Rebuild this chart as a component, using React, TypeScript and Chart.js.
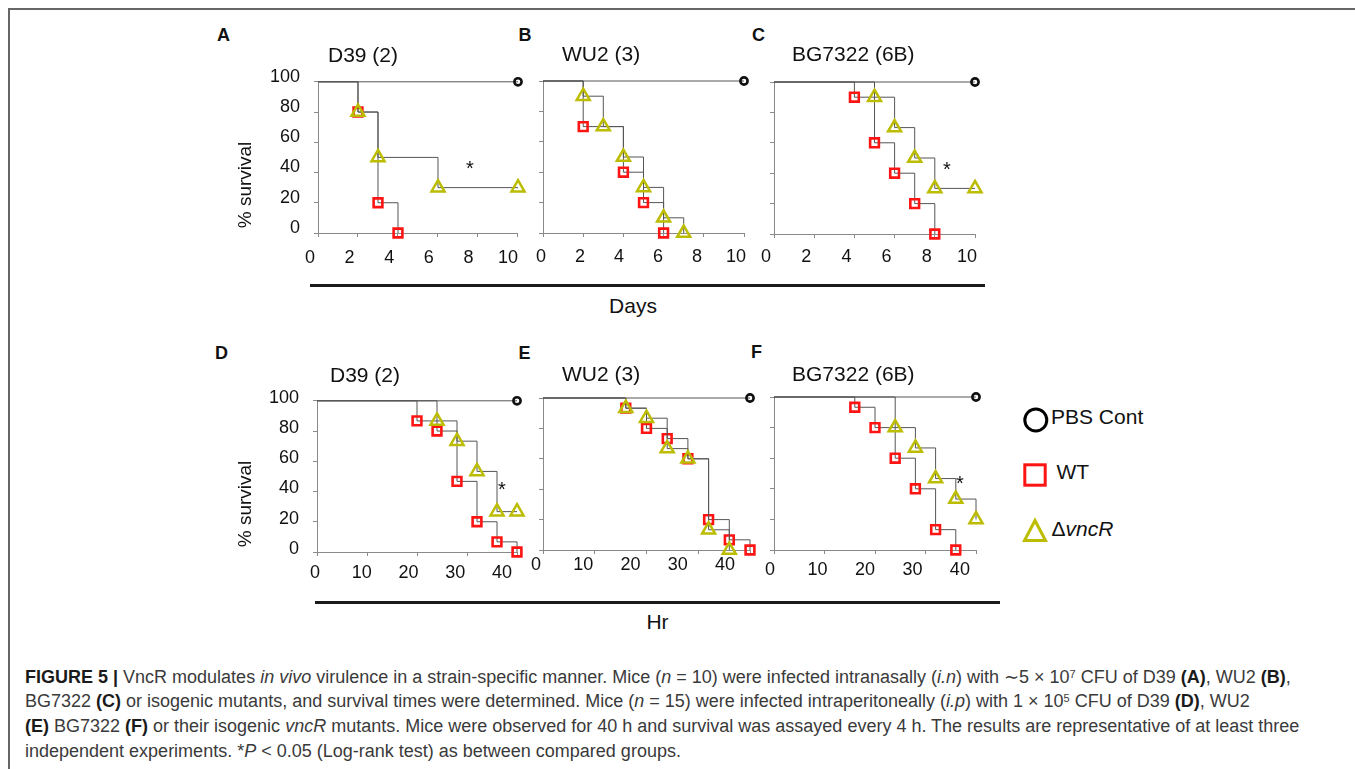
import React, { useEffect, useRef } from 'react';
import { Chart, registerables } from 'chart.js';

Chart.register(...registerables);

const FONT = '"Liberation Sans", Arial, Helvetica, sans-serif';
const LINE = '#555555';
const AXIS = '#8a8a8a';
const RED = '#ff1414';
const OLIVE = '#bcbc00';
const BLACK = '#111111';

// ---------- tick labels ----------
const dayTicks = [0, 2, 4, 6, 8, 10];
const hourTicks = [0, 10, 20, 30, 40];
const survivalTicks = [0, 20, 40, 60, 80, 100];

// ---------- Panel A: D39 (2), days ----------
const daysA_PBS = [0, 10];
const survA_PBS = [100, 100];
const daysA_WT = [0, 2, 3, 4];
const survA_WT = [100, 80, 20, 0];
const daysA_KO = [0, 2, 3, 6, 10];
const survA_KO = [100, 80, 50, 30, 30];

// ---------- Panel B: WU2 (3), days ----------
const daysB_PBS = [0, 10];
const survB_PBS = [100, 100];
const daysB_WT = [0, 2, 4, 5, 6];
const survB_WT = [100, 70, 40, 20, 0];
const daysB_KO = [0, 2, 3, 4, 5, 6, 7];
const survB_KO = [100, 90, 70, 50, 30, 10, 0];

// ---------- Panel C: BG7322 (6B), days ----------
const daysC_PBS = [0, 10];
const survC_PBS = [100, 100];
const daysC_WT = [0, 4, 5, 6, 7, 8];
const survC_WT = [100, 90, 60, 40, 20, 0];
const daysC_KO = [0, 5, 6, 7, 8, 10];
const survC_KO = [100, 90, 70, 50, 30, 30];

// ---------- Panel D: D39 (2), hours ----------
const hrsD_PBS = [0, 40];
const survD_PBS = [100, 100];
const hrsD_WT = [0, 20, 24, 28, 32, 36, 40];
const survD_WT = [100, 86.7, 80, 46.7, 20, 6.7, 0];
const hrsD_KO = [0, 24, 28, 32, 36, 40];
const survD_KO = [100, 86.7, 73.3, 53.3, 26.7, 26.7];

// ---------- Panel E: WU2 (3), hours ----------
const hrsE_PBS = [0, 40];
const survE_PBS = [100, 100];
const hrsE_WT = [0, 16, 20, 24, 28, 32, 36, 40];
const survE_WT = [100, 93.3, 80, 73.3, 60, 20, 6.7, 0];
const hrsE_KO = [0, 16, 20, 24, 28, 32, 36];
const survE_KO = [100, 93.3, 86.7, 66.7, 60, 13.3, 0];

// ---------- Panel F: BG7322 (6B), hours ----------
const hrsF_PBS = [0, 40];
const survF_PBS = [100, 100];
const hrsF_WT = [0, 16, 20, 24, 28, 32, 36];
const survF_WT = [100, 93.3, 80, 60, 40, 13.3, 0];
const hrsF_KO = [0, 24, 28, 32, 36, 40];
const survF_KO = [100, 80, 66.7, 46.7, 33.3, 20];

type Series = { x: number[]; y: number[] };
type PanelSpec = {
  area: { l: number; r: number; t: number; b: number };
  xMax: number;
  xTicks: number[];
  showY: boolean;
  lab: { a: number; k: number };
  xPad: number;
  yOff: number;
  pbs: Series;
  wt: Series;
  ko: Series;
};

const panels: PanelSpec[] = [
  { area: { l: 318, r: 518, t: 81, b: 233 }, xMax: 10, xTicks: dayTicks, showY: true, lab: { a: -8, k: 0.99 }, xPad: 10, yOff: -5,
    pbs: { x: daysA_PBS, y: survA_PBS }, wt: { x: daysA_WT, y: survA_WT }, ko: { x: daysA_KO, y: survA_KO } },
  { area: { l: 543, r: 744, t: 81, b: 233 }, xMax: 10, xTicks: dayTicks, showY: false, lab: { a: -2, k: 0.97 }, xPad: 9, yOff: 0,
    pbs: { x: daysB_PBS, y: survB_PBS }, wt: { x: daysB_WT, y: survB_WT }, ko: { x: daysB_KO, y: survB_KO } },
  { area: { l: 774, r: 975, t: 82, b: 234 }, xMax: 10, xTicks: dayTicks, showY: false, lab: { a: -8, k: 1.0 }, xPad: 8, yOff: 0,
    pbs: { x: daysC_PBS, y: survC_PBS }, wt: { x: daysC_WT, y: survC_WT }, ko: { x: daysC_KO, y: survC_KO } },
  { area: { l: 317, r: 517, t: 400, b: 552 }, xMax: 40, xTicks: hourTicks, showY: true, lab: { a: -2, k: 0.935 }, xPad: 6.5, yOff: -3,
    pbs: { x: hrsD_PBS, y: survD_PBS }, wt: { x: hrsD_WT, y: survD_WT }, ko: { x: hrsD_KO, y: survD_KO } },
  { area: { l: 543, r: 750, t: 398, b: 550 }, xMax: 40, xTicks: hourTicks, showY: false, lab: { a: -7, k: 0.913 }, xPad: 0, yOff: 0,
    pbs: { x: hrsE_PBS, y: survE_PBS }, wt: { x: hrsE_WT, y: survE_WT }, ko: { x: hrsE_KO, y: survE_KO } },
  { area: { l: 774, r: 976, t: 397, b: 550 }, xMax: 40, xTicks: hourTicks, showY: false, lab: { a: -4, k: 0.94 }, xPad: 5, yOff: 0,
    pbs: { x: hrsF_PBS, y: survF_PBS }, wt: { x: hrsF_WT, y: survF_WT }, ko: { x: hrsF_KO, y: survF_KO } },
];

const PADL = 118;
const PADT = 24;
const PADR = 20;
const PADB = 46;

// Shifts the x tick labels the way the original figure's labels sit (slightly left / compressed).
const labelShift = {
  id: 'labelShift',
  beforeDraw(chart: any, _args: any, opts: any) {
    const s = chart.scales.x;
    if (!s || !opts) return;
    const items = s.getLabelItems(chart.chartArea);
    items.forEach((it: any) => {
      const tr = it && it.options && it.options.translation;
      if (tr && !it._shifted) {
        tr[0] = s.left + opts.a + opts.k * (tr[0] - s.left);
        it._shifted = true;
      }
    });
  },
};

function makeDataset(s: Series, color: string, style: string, radius: number, bw: number) {
  return {
    data: s.x.map((x, i) => ({ x, y: s.y[i] })),
    stepped: true as const,
    borderColor: LINE,
    borderWidth: 1,
    fill: false,
    pointStyle: style,
    pointRadius: s.x.map((_, i) => (i === 0 ? 0 : radius)),
    pointHoverRadius: 0,
    pointBorderColor: color,
    pointBackgroundColor: 'rgba(0,0,0,0)',
    pointBorderWidth: bw,
    clip: false as const,
  };
}

function Panel({ spec }: { spec: PanelSpec }) {
  const ref = useRef<HTMLCanvasElement | null>(null);
  const W = spec.area.r - spec.area.l + PADL + PADR;
  const H = spec.area.b - spec.area.t + PADT + PADB;
  useEffect(() => {
    if (!ref.current) return;
    const chart = new Chart(ref.current, {
      type: 'line',
      data: {
        datasets: [
          makeDataset(spec.ko, OLIVE, 'triangle', 7.5, 2.5),
          makeDataset(spec.wt, RED, 'rect', 6.2, 2.6),
          makeDataset(spec.pbs, BLACK, 'circle', 3.6, 2.6),
        ] as any,
      },
      plugins: [labelShift],
      options: {
        animation: false,
        responsive: false,
        events: [],
        layout: { padding: { top: PADT, right: PADR, left: 0, bottom: 0 } },
        plugins: {
          legend: { display: false },
          tooltip: { enabled: false },
          title: { display: false },
          labelShift: spec.lab,
        },
        scales: {
          x: {
            type: 'linear',
            min: 0,
            max: spec.xMax,
            afterFit: (s: any) => { s.height = PADB; },
            afterBuildTicks: (s: any) => { s.ticks = spec.xTicks.map((v) => ({ value: v })); },
            grid: { drawOnChartArea: false, drawTicks: true, tickLength: 4, color: AXIS, lineWidth: 1 },
            border: { display: true, color: AXIS, width: 1 },
            ticks: {
              font: { family: FONT, size: 18 },
              color: BLACK,
              padding: spec.xPad,
              autoSkip: false,
              maxRotation: 0,
            },
          },
          y: {
            type: 'linear',
            min: 0,
            max: 100,
            afterFit: (s: any) => { s.width = PADL; },
            afterBuildTicks: (s: any) => { s.ticks = survivalTicks.map((v) => ({ value: v })); },
            grid: { drawOnChartArea: false, drawTicks: true, tickLength: 4, color: AXIS, lineWidth: 1 },
            border: { display: true, color: AXIS, width: 1 },
            ticks: {
              display: spec.showY,
              font: { family: FONT, size: 18 },
              color: BLACK,
              padding: 14,
              labelOffset: spec.yOff,
              autoSkip: false,
            },
          },
        },
      } as any,
    });
    return () => chart.destroy();
  }, []);
  return (
    <canvas
      ref={ref}
      width={W}
      height={H}
      style={{ position: 'absolute', left: spec.area.l - PADL, top: spec.area.t - PADT, width: W, height: H }}
    />
  );
}

type TProps = {
  x: number;
  y: number;
  size: number;
  bold?: boolean;
  anchor?: 'left' | 'center' | 'right';
  rotate?: boolean;
  children: React.ReactNode;
};

function T({ x, y, size, bold, anchor = 'left', rotate, children }: TProps) {
  const tx = anchor === 'center' ? '-50%' : anchor === 'right' ? '-100%' : '0';
  return (
    <div
      style={{
        position: 'absolute',
        left: x,
        top: y,
        transform: `translate(${tx}, -50%)${rotate ? ' rotate(-90deg)' : ''}`,
        fontFamily: FONT,
        fontSize: size,
        lineHeight: 1,
        fontWeight: bold ? 700 : 400,
        whiteSpace: 'nowrap',
        color: BLACK,
      }}
    >
      {children}
    </div>
  );
}

function Star({ x, y }: { x: number; y: number }) {
  return <T x={x} y={y + 4.5} size={20} anchor="center">*</T>;
}

export default function App() {
  const capStyle: React.CSSProperties = {
    position: 'absolute',
    left: 25,
    top: 664.5,
    fontFamily: FONT,
    fontSize: 18,
    lineHeight: '24.7px',
    color: '#3a3a3a',
    whiteSpace: 'nowrap',
  };
  const b: React.CSSProperties = { fontWeight: 700, color: '#1a1a1a' };
  const sup: React.CSSProperties = { fontSize: 11, verticalAlign: 'top', position: 'relative', top: -3 };
  return (
    <div style={{ position: 'fixed', left: 0, top: 0, width: 1355, height: 769, overflow: 'hidden', background: '#fff' }}>
      <div style={{ position: 'absolute', left: 8, top: 8, width: 1400, height: 800, borderTop: '2px solid #666', borderLeft: '2px solid #666' }} />

      {panels.map((p, i) => (
        <Panel key={i} spec={p} />
      ))}

      {/* panel letters */}
      <T x={223.5} y={35} size={18} bold anchor="center">A</T>
      <T x={525} y={35} size={18} bold anchor="center">B</T>
      <T x={758.5} y={35} size={18} bold anchor="center">C</T>
      <T x={221.5} y={353} size={18} bold anchor="center">D</T>
      <T x={524.5} y={353} size={18} bold anchor="center">E</T>
      <T x={756.5} y={352} size={18} bold anchor="center">F</T>

      {/* strain titles */}
      <T x={328} y={54} size={21}>D39 (2)</T>
      <T x={562} y={53} size={21}>WU2 (3)</T>
      <T x={792} y={53} size={21}>BG7322 (6B)</T>
      <T x={330} y={374} size={21}>D39 (2)</T>
      <T x={562} y={373} size={21}>WU2 (3)</T>
      <T x={792} y={372.5} size={21}>BG7322 (6B)</T>

      {/* y axis titles */}
      <T x={243.5} y={185} size={19} anchor="center" rotate>% survival</T>
      <T x={243.5} y={504} size={19} anchor="center" rotate>% survival</T>

      {/* significance marks */}
      <Star x={470} y={163} />
      <Star x={947} y={164} />
      <Star x={502} y={484} />
      <Star x={960} y={478} />

      {/* group axis bars & labels */}
      <div style={{ position: 'absolute', left: 310, top: 284, width: 675, height: 3, background: '#1a1a1a' }} />
      <T x={633} y={305} size={21} anchor="center">Days</T>
      <div style={{ position: 'absolute', left: 315, top: 601, width: 685, height: 3, background: '#1a1a1a' }} />
      <T x={657.5} y={620.5} size={21} anchor="center">Hr</T>

      {/* legend */}
      <svg style={{ position: 'absolute', left: 1020, top: 404 }} width={32} height={32}>
        <circle cx={15.8} cy={16} r={11} fill="none" stroke="#000" strokeWidth={3} />
      </svg>
      <T x={1051} y={415.5} size={21}>PBS Cont</T>
      <svg style={{ position: 'absolute', left: 1020, top: 460 }} width={32} height={32}>
        <rect x={4.8} y={4.8} width={20.4} height={20.4} fill="none" stroke={RED} strokeWidth={3} />
      </svg>
      <T x={1056.5} y={471} size={21}>WT</T>
      <svg style={{ position: 'absolute', left: 1020, top: 515 }} width={32} height={32}>
        <polygon points="15,5.5 4.5,25.5 25.5,25.5" fill="none" stroke={OLIVE} strokeWidth={3} />
      </svg>
      <T x={1051.5} y={528} size={21}>Δ<i>vncR</i></T>

      {/* caption */}
      <div style={capStyle}>
        <span style={b}>FIGURE 5 | </span>VncR modulates <i>in vivo</i> virulence in a strain-specific manner. Mice (<i>n</i> = 10) were infected intranasally (<i>i.n</i>) with ∼5 × 10<span style={sup}>7</span> CFU of D39 <span style={b}>(A)</span>, WU2 <span style={b}>(B)</span>,
        <br />
        BG7322 <span style={b}>(C)</span> or isogenic mutants, and survival times were determined. Mice (<i>n</i> = 15) were infected intraperitoneally (<i>i.p</i>) with 1 × 10<span style={sup}>5</span> CFU of D39 <span style={b}>(D)</span>, WU2
        <br />
        <span style={b}>(E)</span> BG7322 <span style={b}>(F)</span> or their isogenic <i>vncR</i> mutants. Mice were observed for 40 h and survival was assayed every 4 h. The results are representative of at least three
        <br />
        independent experiments. *<i>P</i> &lt; 0.05 (Log-rank test) as between compared groups.
      </div>
    </div>
  );
}
